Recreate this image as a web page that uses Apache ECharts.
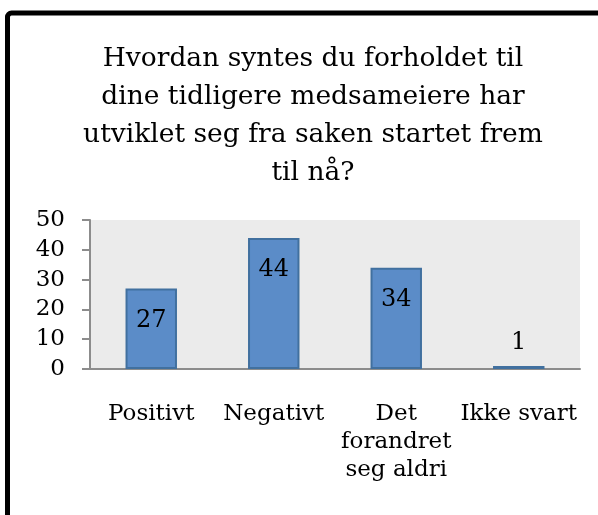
<!DOCTYPE html>
<html>
<head>
<meta charset="utf-8">
<script src="https://cdn.jsdelivr.net/npm/echarts@6/dist/echarts.min.js"></script>
<style>
  html, body { margin: 0; padding: 0; background: #fff; }
  #chart { width: 598px; height: 515px; }
</style>
</head>
<body>
<div id="chart"></div>
<script>
// 数据
var categories = ["Positivt", "Negativt", "Det\nforandret\nseg aldri", "Ikke svart"];
var answers = [27, 44, 34, 1];
var titleLines = [
  "Hvordan syntes du forholdet til",
  "dine tidligere medsameiere har",
  "utviklet seg fra saken startet frem",
  "til nå?"
];

var fontFamily = "'DejaVu Serif', 'Liberation Serif', serif";
var axisColor = "#8c8c8c";

var chart = echarts.init(document.getElementById("chart"));
var option = {
  animation: false,
  title: {
    text: titleLines.join("\n"),
    left: 308,
    top: 35,
    textAlign: "center",
    textStyle: {
      fontFamily: fontFamily,
      fontSize: 26.5,
      fontWeight: "normal",
      lineHeight: 38,
      color: "#000"
    }
  },
  graphic: [
    {
      type: "rect",
      shape: { x: 7.5, y: 13, width: 700, height: 700, r: 4 },
      style: { fill: null, stroke: "#000", lineWidth: 5 },
      z: 100
    }
  ],
  grid: {
    left: 90,
    right: 18,
    top: 220,
    bottom: 146,
    show: true,
    backgroundColor: "#ebebeb",
    borderWidth: 0
  },
  xAxis: {
    type: "category",
    data: categories,
    axisLine: { lineStyle: { color: axisColor, width: 2 } },
    axisTick: { length: 9, lineStyle: { color: axisColor, width: 2 } },
    axisLabel: {
      margin: 31,
      interval: 0,
      fontFamily: fontFamily,
      fontSize: 23,
      lineHeight: 28,
      color: "#000",
      align: "center"
    }
  },
  yAxis: {
    type: "value",
    min: 0,
    max: 50,
    interval: 10,
    axisLine: { show: true, lineStyle: { color: axisColor, width: 2 } },
    axisTick: { show: true, length: 8, lineStyle: { color: axisColor, width: 2 } },
    splitLine: { show: false },
    axisLabel: {
      margin: 25,
      fontFamily: fontFamily,
      fontSize: 23,
      color: "#000",
      padding: [10, 0, 0, 0]
    }
  },
  series: [
    {
      type: "bar",
      barWidth: "42%",
      data: answers.map(function (v) {
        // 太矮的柱子把标签放在上面
        if (v < 5) {
          return { value: v, label: { position: "top", distance: 11 } };
        }
        return v;
      }),
      itemStyle: {
        color: "#5b8cc8",
        borderColor: "#41709f",
        borderWidth: 2
      },
      label: {
        show: true,
        position: "insideTop",
        distance: 20,
        fontFamily: fontFamily,
        fontSize: 24,
        color: "#000"
      }
    }
  ]
};
chart.setOption(option);
</script>
</body>
</html>
